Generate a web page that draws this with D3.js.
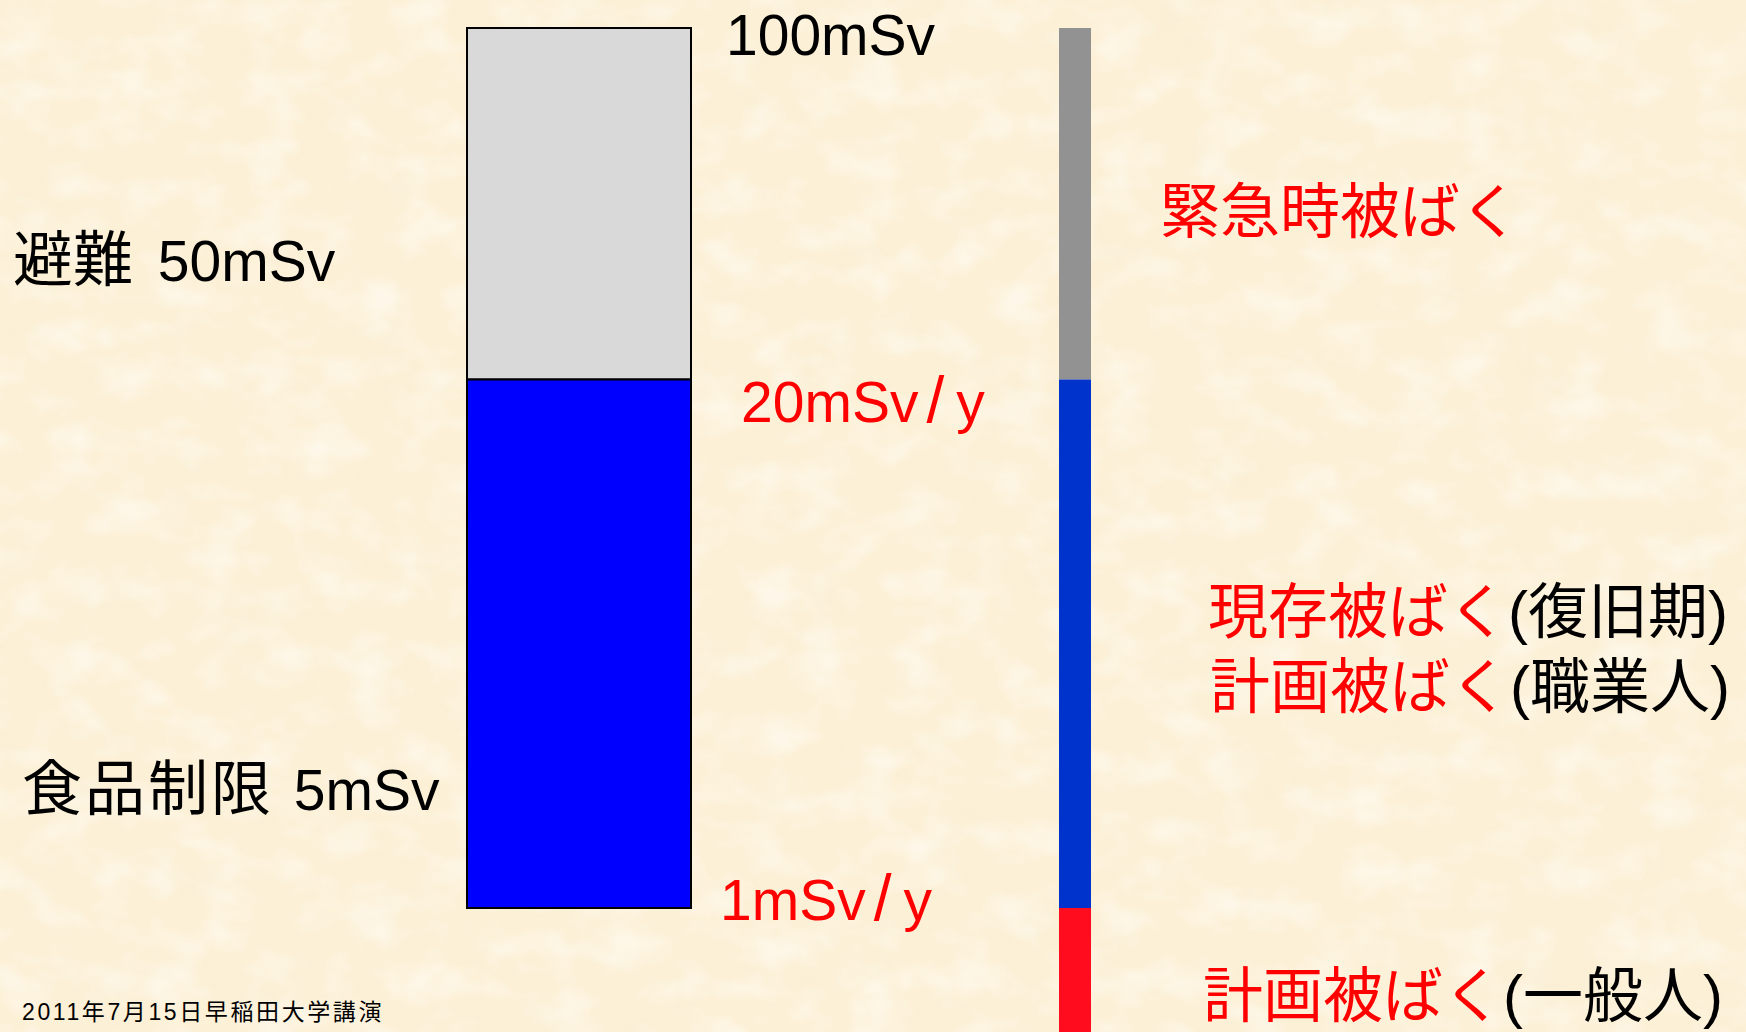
<!DOCTYPE html>
<html>
<head>
<meta charset="utf-8">
<script src="https://cdn.jsdelivr.net/npm/d3@7"></script>
<style>
  html, body { margin: 0; padding: 0; background: #fcf0d6; overflow: hidden; }
  svg { display: block; }
</style>
</head>
<body>
<script>
// ---- data ----
const scaleLevels = [0, 1, 20, 100];            // mSv levels along the vertical axis
const boxSegments = [                            // stacked box (left)
  { lo: 20, hi: 100, key: "emergency" },
  { lo: 1,  hi: 20,  key: "existing" }
];
const barSegments = [                            // thin bar (right)
  { lo: 20, hi: 100, key: "emergency" },
  { lo: 1,  hi: 20,  key: "existing" },
  { lo: 0,  hi: 1,   key: "planned" }
];
const levelValues = [100, 20, 1];
const levelLabels = [["100mSv"], ["20mSv", "/", "y"], ["1mSv", "/", "y"]];
const sideValues  = [50, 5];
const sideLabels  = [["避難", "50mSv"], ["食品制限", "5mSv"]];
const situationLabels = [
  [["緊急時被ばく", "red"]],
  [["現存被ばく", "red"], ["(復旧期)", "black"]],
  [["計画被ばく", "red"], ["(職業人)", "black"]],
  [["計画被ばく", "red"], ["(一般人)", "black"]]
];
const footnote = "2011年7月15日早稲田大学講演";

// ---- styles / layout ----
const W = 1746, H = 1032;
const FONT = "'Liberation Sans', Arial, 'Noto Sans CJK JP', sans-serif";
const RED = "#ff0000";
const boxFill = { emergency: "#d9d9d9", existing: "#0000ff" };
const barFill = { emergency: "#929292", existing: "#0033cc", planned: "#ff0d1e" };
const levelColor = ["#000", RED, RED];
const levelPos = [ { x: 726, dy: 27 }, { x: 741, dy: 42 }, { x: 720, dy: 12 } ];
const slashDx = [8, 12];   // extra spacing before "/" and before "y"
const sidePos = [ { x: 13, dy: 33, gap: 9, ls: 0 }, { x: 22, dy: 13, gap: 4, ls: 3 } ];
const situationPos = [ { x: 1160, y: 233 }, { x: 1208, y: 633 }, { x: 1210, y: 708 }, { x: 1203, y: 1017 } ];

const svg = d3.select("body").append("svg").attr("width", W).attr("height", H);

// parchment-like background
const defs = svg.append("defs");
const f1 = defs.append("filter").attr("id", "paperDark").attr("x", 0).attr("y", 0).attr("width", "100%").attr("height", "100%");
f1.append("feTurbulence").attr("type", "fractalNoise").attr("baseFrequency", "0.014 0.022").attr("numOctaves", 4).attr("seed", 7);
f1.append("feColorMatrix").attr("type", "matrix")
  .attr("values", "0 0 0 0 0.94  0 0 0 0 0.87  0 0 0 0 0.68  2.0 0 0 0 -0.9");
const f2 = defs.append("filter").attr("id", "paperLight").attr("x", 0).attr("y", 0).attr("width", "100%").attr("height", "100%");
f2.append("feTurbulence").attr("type", "fractalNoise").attr("baseFrequency", "0.02 0.028").attr("numOctaves", 3).attr("seed", 23);
f2.append("feColorMatrix").attr("type", "matrix")
  .attr("values", "0 0 0 0 1.0  0 0 0 0 0.975  0 0 0 0 0.92  2.2 0 0 0 -0.95");
svg.append("rect").attr("width", W).attr("height", H).attr("fill", "#fcf0d6");
svg.append("rect").attr("width", W).attr("height", H).attr("filter", "url(#paperDark)").attr("opacity", 0.4);
svg.append("rect").attr("width", W).attr("height", H).attr("filter", "url(#paperLight)").attr("opacity", 0.6);

// vertical scale (piecewise linear)
const y = d3.scaleLinear().domain(scaleLevels).range([1032, 908, 379.5, 28]);
const boxX = d3.scaleBand().domain(["box"]).range([467, 691]).padding(0);
const barX = d3.scaleBand().domain(["bar"]).range([1059, 1091]).padding(0);

// stacked box
svg.append("g").selectAll("rect").data(boxSegments).join("rect")
  .attr("x", boxX("box")).attr("width", boxX.bandwidth())
  .attr("y", d => y(d.hi)).attr("height", d => y(d.lo) - y(d.hi))
  .attr("fill", d => boxFill[d.key])
  .attr("stroke", "#000").attr("stroke-width", 2);

// right bar
svg.append("g").selectAll("rect").data(barSegments).join("rect")
  .attr("x", barX("bar")).attr("width", barX.bandwidth())
  .attr("y", d => y(d.hi)).attr("height", d => y(d.lo) - y(d.hi))
  .attr("fill", d => barFill[d.key]);

// level labels
const lvl = svg.append("g").selectAll("text").data(levelValues).join("text")
  .attr("x", (d, i) => levelPos[i].x)
  .attr("y", (d, i) => y(d) + levelPos[i].dy)
  .attr("fill", (d, i) => levelColor[i])
  .attr("font-family", FONT).attr("font-size", 57);
lvl.each(function (d, i) {
  const t = d3.select(this);
  levelLabels[i].forEach((part, j) => {
    const ts = t.append("tspan").attr("dx", j === 0 ? 0 : slashDx[j - 1]).text(part);
    if (part === "/") ts.attr("font-size", 64);
  });
});

// side labels
const side = svg.append("g").selectAll("text").data(sideValues).join("text")
  .attr("x", (d, i) => sidePos[i].x)
  .attr("y", (d, i) => y(d) + sidePos[i].dy)
  .attr("font-family", FONT).attr("fill", "#000");
side.append("tspan").attr("font-size", 60).attr("letter-spacing", (d, i) => sidePos[i].ls)
  .text((d, i) => sideLabels[i][0]);
side.append("tspan").attr("font-size", 57).attr("letter-spacing", 0)
  .attr("dx", (d, i) => sidePos[i].gap).text((d, i) => " " + sideLabels[i][1]);

// situation labels
situationLabels.forEach((parts, i) => {
  const t = svg.append("text")
    .attr("x", situationPos[i].x).attr("y", situationPos[i].y)
    .attr("font-family", FONT).attr("font-size", 60);
  parts.forEach(p => t.append("tspan").attr("fill", p[1] === "red" ? RED : "#000").text(p[0]));
});

// footnote
svg.append("text").attr("x", 22).attr("y", 1020)
  .attr("font-family", FONT).attr("font-size", 23).attr("letter-spacing", 2.6)
  .attr("fill", "#000").text(footnote);
</script>
</body>
</html>
